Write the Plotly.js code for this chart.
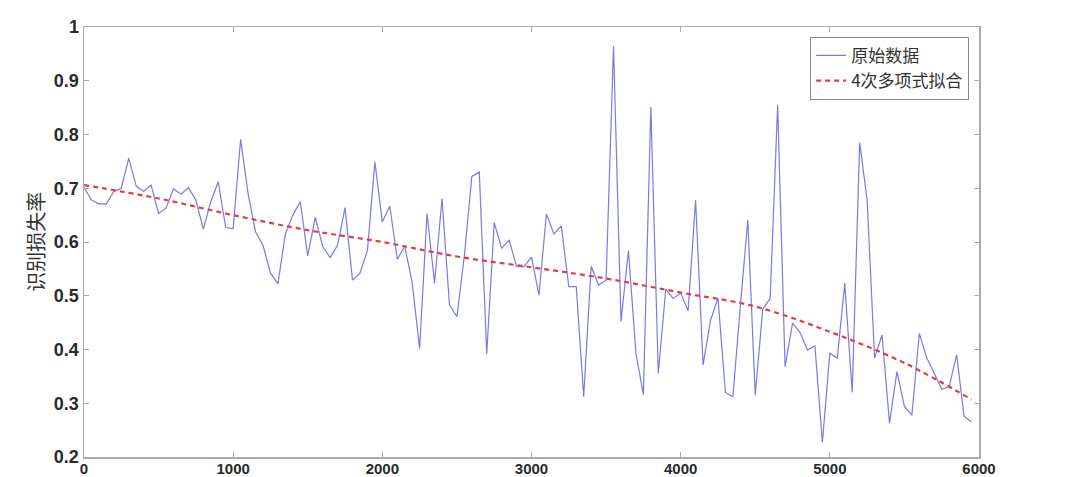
<!DOCTYPE html>
<html>
<head>
<meta charset="utf-8">
<script src="https://cdn.plot.ly/plotly-3.0.1.min.js"></script>
<style>
html,body{margin:0;padding:0;background:#fff;}
#chart{width:1080px;height:477px;}
</style>
</head>
<body>
<div id="chart"></div>
<script>
// iteration positions (x) of the raw data
const iterations = [
  0,50,100,150,200,250,300,350,400,450,500,550,600,650,700,750,800,850,900,950,
  1000,1050,1100,1150,1200,1250,1300,1350,1400,1450,1500,1550,1600,1650,1700,1750,1800,1850,1900,1950,
  2000,2050,2100,2150,2200,2250,2300,2350,2400,2450,2500,2550,2600,2650,2700,2750,2800,2850,2900,2950,
  3000,3050,3100,3150,3200,3250,3300,3350,3400,3450,3500,3550,3600,3650,3700,3750,3800,3850,3900,3950,
  4000,4050,4100,4150,4200,4250,4300,4350,4400,4450,4500,4550,4600,4650,4700,4750,4800,4850,4900,4950,
  5000,5050,5100,5150,5200,5250,5300,5350,5400,5450,5500,5550,5600,5650,5700,5750,5800,5850,5900,5950
];
// 原始数据 (raw recognition loss rate)
const rawLoss = [
  0.702,0.678,0.671,0.671,0.694,0.700,0.756,0.704,0.694,0.706,0.653,0.663,0.699,0.689,0.701,0.678,0.624,0.675,0.712,0.627,
  0.625,0.791,0.690,0.619,0.594,0.542,0.522,0.615,0.650,0.675,0.574,0.646,0.592,0.571,0.594,0.664,0.529,0.542,0.584,0.749,
  0.637,0.667,0.568,0.592,0.525,0.402,0.653,0.523,0.681,0.483,0.461,0.575,0.722,0.730,0.392,0.636,0.588,0.604,0.554,0.554,
  0.572,0.501,0.652,0.615,0.630,0.517,0.517,0.312,0.555,0.520,0.529,0.964,0.452,0.584,0.393,0.316,0.851,0.356,0.512,0.495,
  0.505,0.472,0.678,0.371,0.454,0.496,0.320,0.312,0.480,0.641,0.315,0.475,0.495,0.855,0.368,0.449,0.432,0.399,0.407,0.227,
  0.393,0.384,0.523,0.320,0.785,0.678,0.384,0.427,0.263,0.359,0.294,0.278,0.430,0.384,0.356,0.326,0.331,0.390,0.276,0.265
];
// 4次多项式拟合 (fitted curve)
const fitX = [0,500,1000,1500,2000,2500,3000,3500,4000,4500,5000,5500,5950];
const fitY = [0.706,0.681,0.650,0.622,0.600,0.573,0.553,0.532,0.506,0.480,0.433,0.375,0.307];

const seriesNames = ['原始数据', '4次多项式拟合'];
const yTickVals = [0.2,0.3,0.4,0.5,0.6,0.7,0.8,0.9,1];
const yTickText = ['0.2','0.3','0.4','0.5','0.6','0.7','0.8','0.9','1'];
const xTickVals = [0,1000,2000,3000,4000,5000,6000];
const xTickText = ['0','1000','2000','3000','4000','5000','6000'];
const yTitle = '识别损失率';

const tickFont = {family: 'Liberation Sans, Arial, sans-serif', size: 18, color: '#2a2a2a', weight: 'bold'};
const xTickFont = {family: 'Liberation Sans, Arial, sans-serif', size: 15, color: '#2a2a2a', weight: 'bold'};
const axisColor = '#ababab';

const traces = [
  {
    x: iterations, y: rawLoss, name: seriesNames[0], type: 'scatter', mode: 'lines',
    line: {color: 'rgb(122,122,230)', width: 1.2}
  },
  {
    x: fitX, y: fitY, name: seriesNames[1], type: 'scatter', mode: 'lines',
    line: {color: 'rgb(226,62,62)', width: 2.2, dash: '5px,4px', shape: 'spline'}
  }
];

const layout = {
  width: 1080, height: 477,
  margin: {l: 84, r: 101, t: 27, b: 20},
  paper_bgcolor: '#fff', plot_bgcolor: '#fff',
  showlegend: true,
  xaxis: {
    range: [0, 6000], tickvals: xTickVals, ticktext: xTickText,
    showgrid: false, zeroline: false, showline: true, mirror: 'ticks',
    linecolor: axisColor, linewidth: 1.5, ticks: 'inside', ticklen: 5, tickcolor: axisColor,
    tickfont: xTickFont, ticklabelstandoff: -3
  },
  yaxis: {
    range: [0.2, 1], tickvals: yTickVals, ticktext: yTickText,
    showgrid: false, zeroline: false, showline: true, mirror: 'ticks',
    linecolor: axisColor, linewidth: 1.5, ticks: 'inside', ticklen: 5, tickcolor: axisColor,
    tickfont: tickFont
  },
  legend: {
    x: 0.989, xanchor: 'right', y: 0.977, yanchor: 'top',
    bordercolor: '#8a8a8a', borderwidth: 1, bgcolor: '#fff',
    font: {family: 'Noto Sans CJK SC, sans-serif', size: 17, color: '#333'},
    tracegroupgap: 0, itemwidth: 30
  },
  annotations: [{
    text: yTitle, xref: 'paper', yref: 'paper', x: -0.055, y: 0.5,
    xanchor: 'center', yanchor: 'middle', textangle: -90, showarrow: false,
    font: {family: 'Noto Sans CJK SC, sans-serif', size: 20, color: '#333'}
  }]
};

Plotly.newPlot('chart', traces, layout, {displayModeBar: false, staticPlot: true});
</script>
</body>
</html>
